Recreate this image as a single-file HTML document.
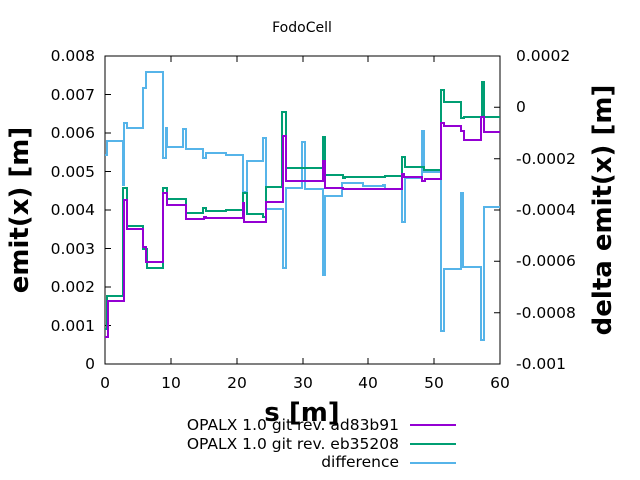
<!DOCTYPE html>
<html><head><style>body{margin:0;background:#fff}svg{display:block}</style></head><body>
<svg width="640" height="480" xmlns="http://www.w3.org/2000/svg" font-family="DejaVu Sans, sans-serif">
<rect width="640" height="480" fill="#fff"/>
<text x="302" y="32" font-size="14" text-anchor="middle">FodoCell</text>
<g stroke="#000" stroke-width="1">
<path d="M105,56V364H500V56Z" fill="none"/>
<path d="M105,364h6M105,325.5h6M105,287h6M105,248.5h6M105,210h6M105,171.5h6M105,133h6M105,94.5h6
M500,107.3h-6M500,158.7h-6M500,210h-6M500,261.3h-6M500,312.7h-6
M171,364v-6M237,364v-6M303,364v-6M368,364v-6M434,364v-6
M171,56v6M237,56v6M303,56v6M368,56v6M434,56v6"/>
</g>
<g font-size="15.5" text-anchor="end">
<text x="95" y="369">0</text><text x="95" y="331">0.001</text><text x="95" y="292">0.002</text><text x="95" y="254">0.003</text><text x="95" y="215">0.004</text><text x="95" y="177">0.005</text><text x="95" y="138">0.006</text><text x="95" y="100">0.007</text><text x="95" y="61">0.008</text>
</g>
<g font-size="15.5">
<text x="516" y="61">0.0002</text><text x="516" y="112">0</text><text x="516" y="164">-0.0002</text><text x="516" y="215">-0.0004</text><text x="516" y="266">-0.0006</text><text x="516" y="318">-0.0008</text><text x="516" y="369">-0.001</text>
</g>
<g font-size="15.5" text-anchor="middle">
<text x="105" y="388">0</text><text x="171" y="388">10</text><text x="237" y="388">20</text><text x="303" y="388">30</text><text x="368" y="388">40</text><text x="434" y="388">50</text><text x="500" y="388">60</text>
</g>
<text x="302" y="421" font-size="26" font-weight="bold" text-anchor="middle">s [m]</text>
<text transform="translate(28,210) rotate(-90)" font-size="26" font-weight="bold" text-anchor="middle">emit(x) [m]</text>
<text transform="translate(611,210) rotate(-90)" font-size="26" font-weight="bold" text-anchor="middle">delta emit(x) [m]</text>
<g fill="none" stroke-width="2">
<path stroke="#56b4e9" d="M105,155H107V141H123V185H124V123H127V128H143V88H146V72H163V158H166V128H167V147H183V129H186V149H203V158H206V153H226V155H243V192H247V161H263V138H266V209H283V268H286V188H302V142H305V189H323V275H325V196H342V183H363V186H383V185H385V189H402V222H405V178H422V131H424V172H441V331H444V269H461V193H463V267H481V340H484V207H500"/>
<path stroke="#009e73" d="M105,329H107V296H123V188H127V226H143V249H147V268H163V188H167V199H186V213H203V208H206V211H226V210H243V193H247V214H263V217H266V187H282V112H286V168H323V137H325V175H343V178H345V177H365V177H385V176H402V157H405V167H424V170H441V90H444V102H461V118H464V117H482V82H484V117H500"/>
<path stroke="#9400d3" d="M105,337H108V301H124V200H127V229H143V247H146V262H163V193H167V205H186V219H204V217H206V218H243V203H244V222H266V202H283V136H286V181H323V161H325V188H343V189H402V174H404V177H422V181H425V179H441V123H444V126H461V131H464V140H481V117H484V132H500"/>
</g>
<g font-size="15.5" text-anchor="end">
<text x="399" y="430">OPALX 1.0 git rev. ad83b91</text>
<text x="399" y="449">OPALX 1.0 git rev. eb35208</text>
<text x="399" y="467">difference</text>
</g>
<g stroke-width="2">
<path d="M410,425H456" stroke="#9400d3"/>
<path d="M410,444H456" stroke="#009e73"/>
<path d="M410,463H456" stroke="#56b4e9"/>
</g>
</svg>
</body></html>
